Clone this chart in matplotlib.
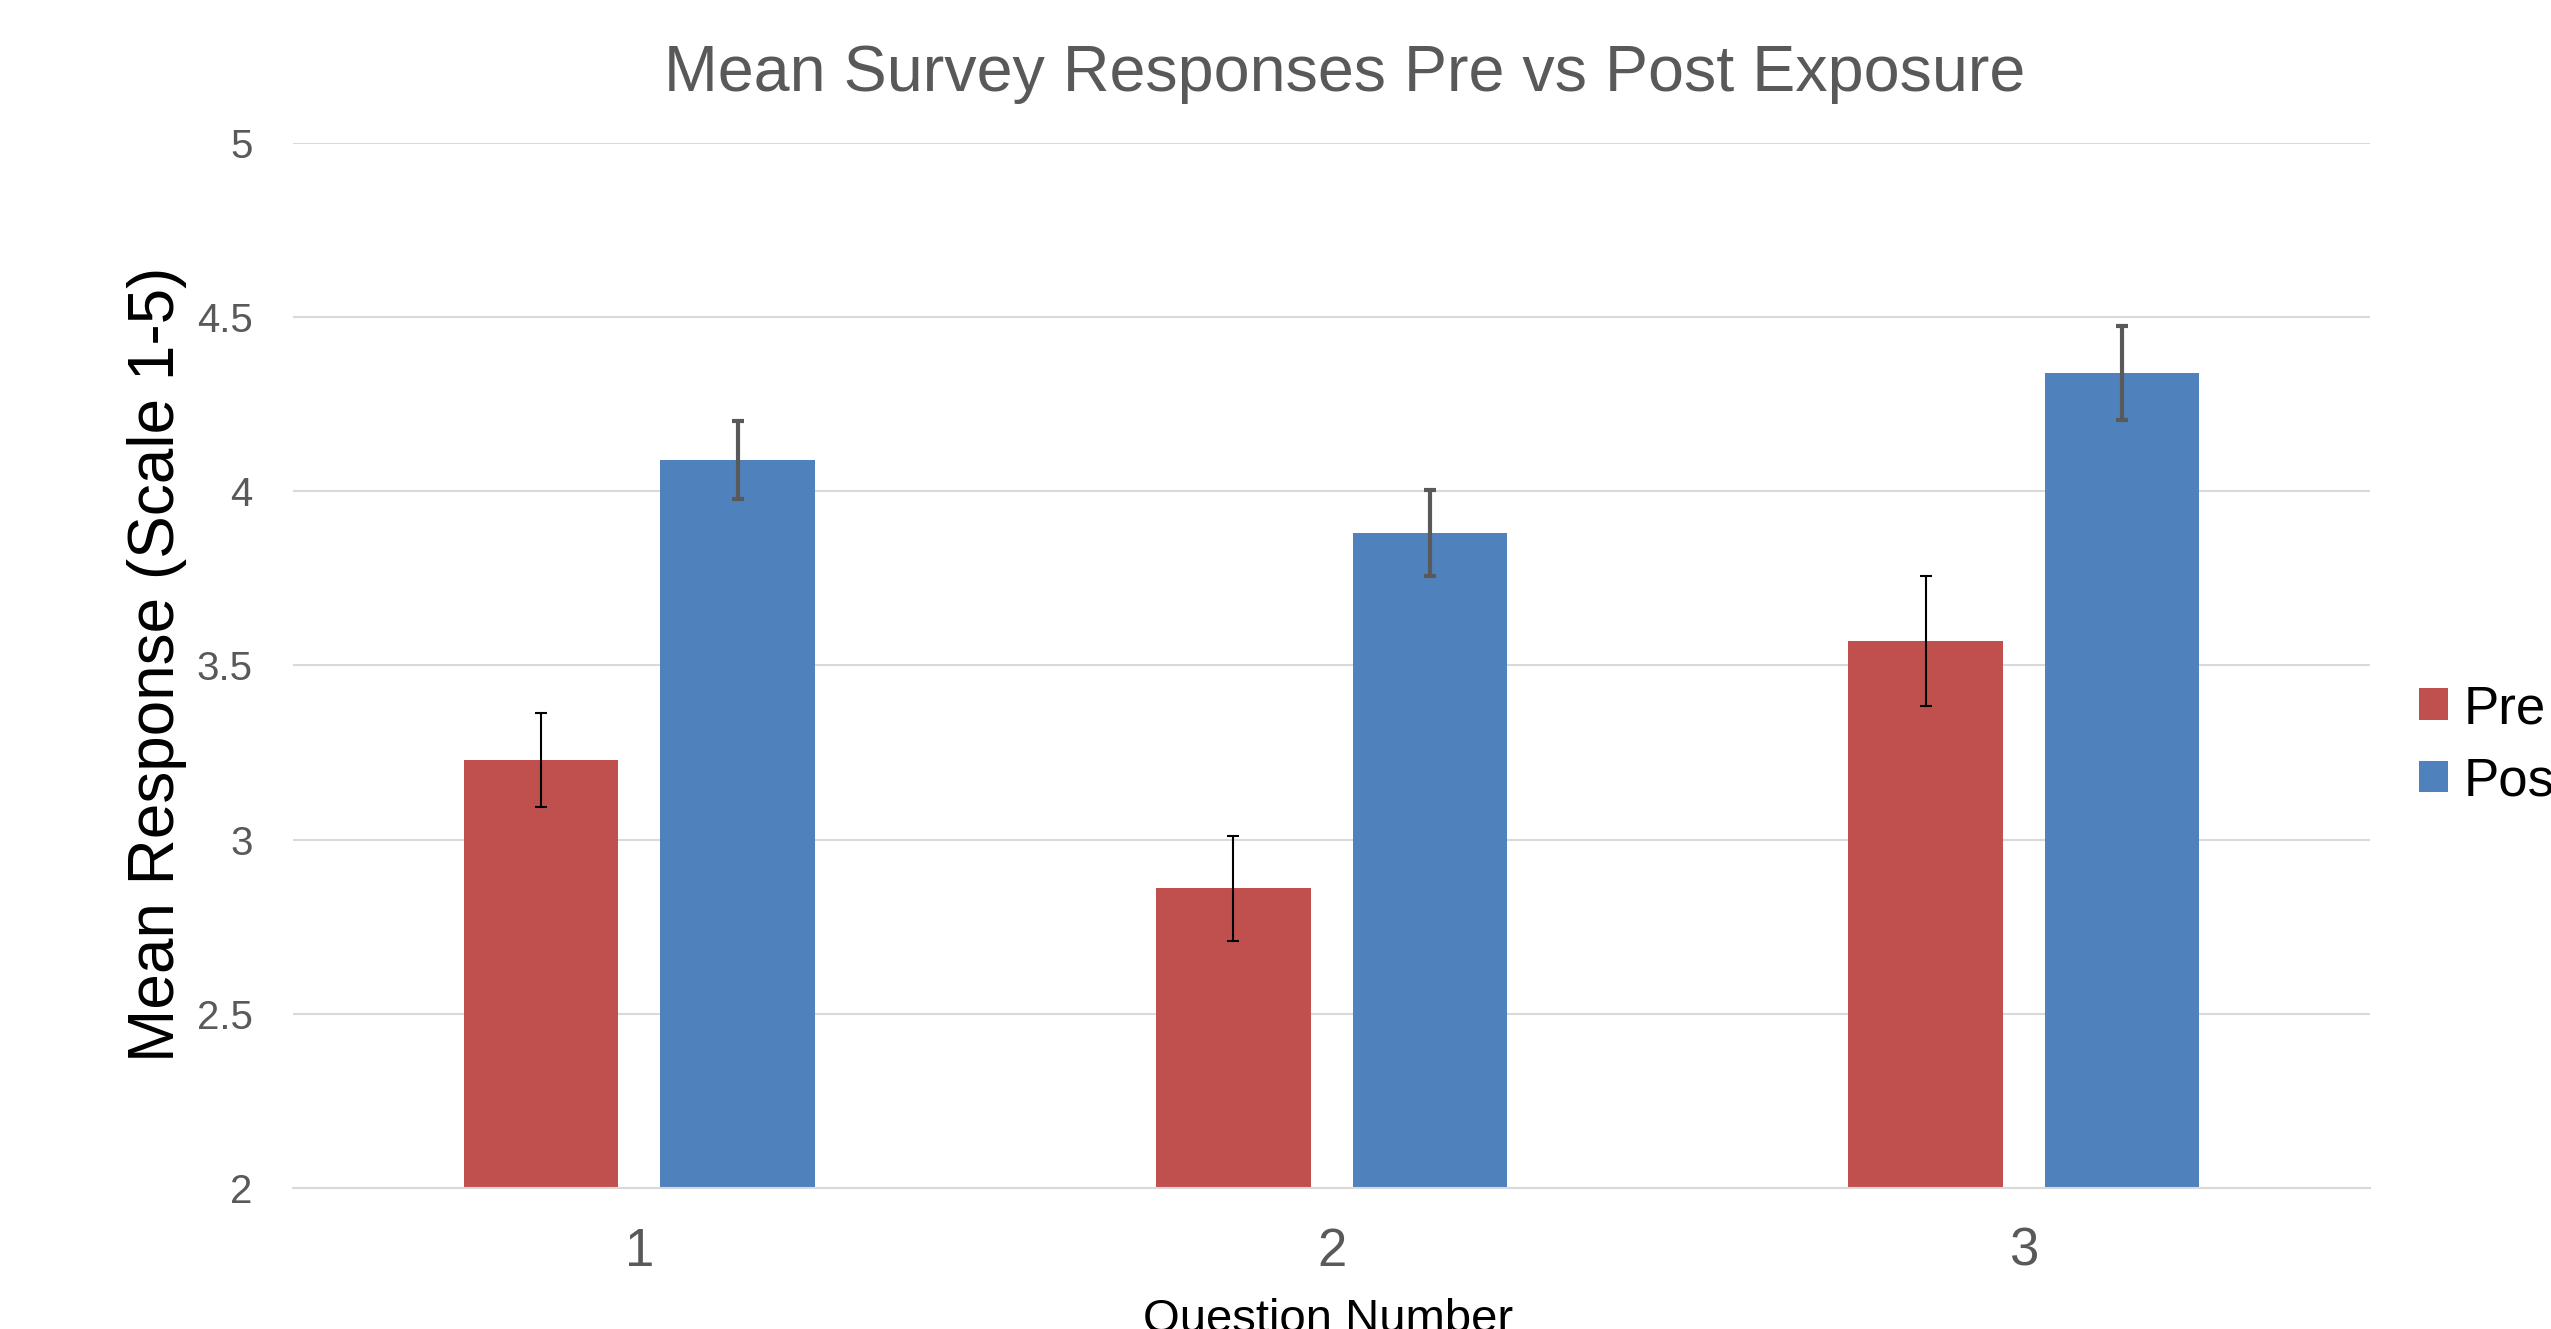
import numpy as np
import matplotlib
matplotlib.use('Agg')
import matplotlib.pyplot as plt

plt.rcParams['font.family'] = ['Liberation Sans', 'DejaVu Sans']

questions = ['1', '2', '3']
pre_means = [3.23, 2.86, 3.57]
post_means = [4.09, 3.88, 4.34]
pre_err = [0.135, 0.15, 0.187]
post_err = [0.112, 0.123, 0.136]
yticks = [2, 2.5, 3, 3.5, 4, 4.5, 5]
ytick_labels = ['2', '2.5', '3', '3.5', '4', '4.5', '5']

pre_color = '#C0504D'
post_color = '#4F81BD'
grid_color = '#D9D9D9'
text_gray = '#595959'

fig = plt.figure(figsize=(25.51, 13.29), dpi=100)
ax = fig.add_axes([0.1149, 0.1061, 0.8142, 0.7863])

x = np.arange(1, len(questions) + 1)
width = 0.223
offset = 0.142

ax.bar(x - offset, np.array(pre_means) - 2, width, bottom=2, color=pre_color,
       label='Pre', zorder=2)
ax.bar(x + offset, np.array(post_means) - 2, width, bottom=2, color=post_color,
       label='Post', zorder=2)
ax.errorbar(x - offset, pre_means, yerr=pre_err, fmt='none', ecolor='black',
            elinewidth=1.5, capsize=4.5, capthick=1.5, zorder=3)
ax.errorbar(x + offset, post_means, yerr=post_err, fmt='none', ecolor=text_gray,
            elinewidth=3, capsize=4.5, capthick=3, zorder=3)

ax.set_xlim(0.5, 3.5)
ax.set_ylim(2, 5)
ax.set_yticks(yticks)
ax.set_yticklabels(ytick_labels)
ax.set_xticks(x)
ax.set_xticklabels(questions)
ax.yaxis.grid(True, color=grid_color, lw=1.5, zorder=0)
ax.set_axisbelow(True)
for s in ['top', 'right', 'left']:
    ax.spines[s].set_visible(False)
ax.spines['bottom'].set_color(grid_color)
ax.spines['bottom'].set_linewidth(1.5)
ax.tick_params(axis='y', length=0, pad=29, labelsize=29, labelcolor=text_gray)
ax.tick_params(axis='x', length=0, pad=28, labelsize=38, labelcolor=text_gray)

fig.text(0.527, 0.9315, 'Mean Survey Responses Pre vs Post Exposure',
         ha='center', va='baseline', fontsize=46.5, color=text_gray)
fig.text(157 / 2551, 0.5, 'Mean Response (Scale 1-5)', rotation=90,
         ha='center', va='center', fontsize=46, color='black')
fig.text(0.5207, 1 - 1298 / 1329, 'Question Number', ha='center', va='top',
         fontsize=34, color='black')

fig.legend(loc='upper left', bbox_to_anchor=(2419 / 2551, 1 - 684 / 1329),
           frameon=False, fontsize=38, handlelength=0.55, handleheight=0.55,
           handletextpad=0.3, labelspacing=0.42, borderaxespad=0,
           borderpad=0)

fig.savefig('out.png', dpi=100)
